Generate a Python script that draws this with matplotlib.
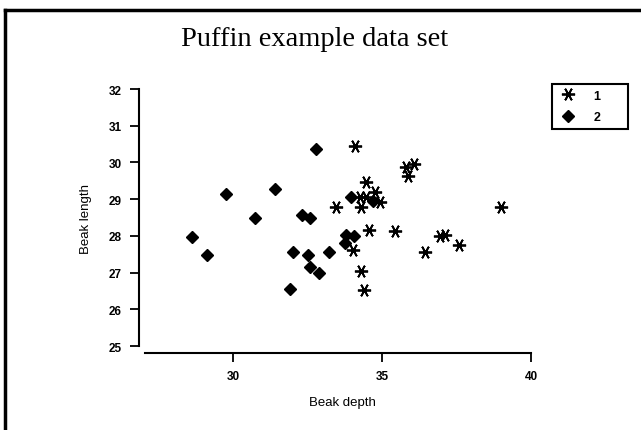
import matplotlib
matplotlib.use("Agg")
import matplotlib.pyplot as plt
from matplotlib.lines import Line2D
import numpy as np

# beak depth / beak length
depth1 = [34.08, 35.81, 36.09, 35.86, 34.45, 34.75, 34.47, 34.92, 34.30, 33.47,
          39.01, 34.58, 35.45, 36.95, 37.10, 37.57, 36.45, 34.02, 34.30, 34.41, 34.25]
length1 = [30.46, 29.87, 29.96, 29.62, 29.46, 29.19, 29.05, 28.93, 28.78, 28.78,
           28.78, 28.17, 28.14, 27.99, 28.02, 27.76, 27.57, 27.62, 27.03, 26.53, 29.05]

depth2 = [32.78, 29.77, 31.40, 30.74, 32.30, 32.60, 28.64, 29.12, 32.00, 32.52,
          33.22, 32.60, 32.89, 31.91, 33.97, 34.69, 33.80, 34.05, 33.75]
length2 = [30.37, 29.14, 29.28, 28.48, 28.57, 28.48, 27.98, 27.48, 27.57, 27.49,
           27.57, 27.14, 26.98, 26.55, 29.05, 28.96, 28.02, 28.00, 27.80]

xticks = [30, 35, 40]
yticks = [25, 26, 27, 28, 29, 30, 31, 32]

W, H = 641, 431
fig = plt.figure(figsize=(W/100, H/100), dpi=100)

# axes box in pixels (left, right, top, bottom)
L, R, T, B = 139, 545, 85, 354
ax = fig.add_axes([L/W, 1 - B/H, (R-L)/W, (B-T)/H])

# pixel scale: 30 -> 233, 35 -> 382 ; 32 -> 90, 25 -> 347
pxx = (382 - 233) / 5.0
pxy = (347 - 90) / 7.0
ax.set_xlim(30 + (L - 233)/pxx, 30 + (R - 233)/pxx)
ax.set_ylim(25 - (B - 347)/pxy, 32 + (90 - T)/pxy)

ax.plot(depth1, length1, linestyle='none', marker=(6, 2, 90), markersize=9.5,
        markeredgewidth=1.3, color='black', label='1      ')
ax.plot(depth2, length2, linestyle='none', marker='D', markersize=6.5,
        color='black', label='2      ')

for s in ['top', 'right']:
    ax.spines[s].set_visible(False)
ax.spines['left'].set_bounds(25, 32)
ax.spines['bottom'].set_bounds(30 + (145 - 233)/pxx, 40)
ax.spines['left'].set_linewidth(1.5)
ax.spines['bottom'].set_linewidth(1.5)

ax.set_xticks(xticks)
ax.set_yticks(yticks)
ax.tick_params(axis='both', length=6.5, width=1.3, labelsize=8.5, pad=6)
for lab in ax.get_xticklabels() + ax.get_yticklabels():
    lab.set_fontweight('bold')
    lab.set_family('Liberation Sans')

ax.set_xlabel('Beak depth', fontsize=9.5, family='Liberation Sans', labelpad=10)
ax.set_ylabel('Beak length', fontsize=9.5, family='Liberation Sans', labelpad=12)

fig.text(0.5 - 0.01, 1 - 40/H, 'Puffin example data set', ha='center', va='center',
         fontsize=20.5, family='Liberation Serif')

leg = ax.legend(loc='upper left', bbox_to_anchor=(552/W, 1 - 85/H),
                bbox_transform=fig.transFigure, borderaxespad=0, fancybox=False,
                edgecolor='black', framealpha=1, borderpad=0.45, handletextpad=1.3,
                handlelength=1.6, labelspacing=0.75,
                prop={'family': 'Liberation Sans', 'weight': 'bold', 'size': 9})
leg.get_frame().set_linewidth(1.5)

# figure border (left and top)
fig.add_artist(Line2D([5/W, 5/W], [0, 1 - 11/H], transform=fig.transFigure,
                      color='black', linewidth=2.5))
fig.add_artist(Line2D([5/W, 1], [1 - 11/H, 1 - 11/H], transform=fig.transFigure,
                      color='black', linewidth=2.5))

fig.savefig('out.png', dpi=100)
